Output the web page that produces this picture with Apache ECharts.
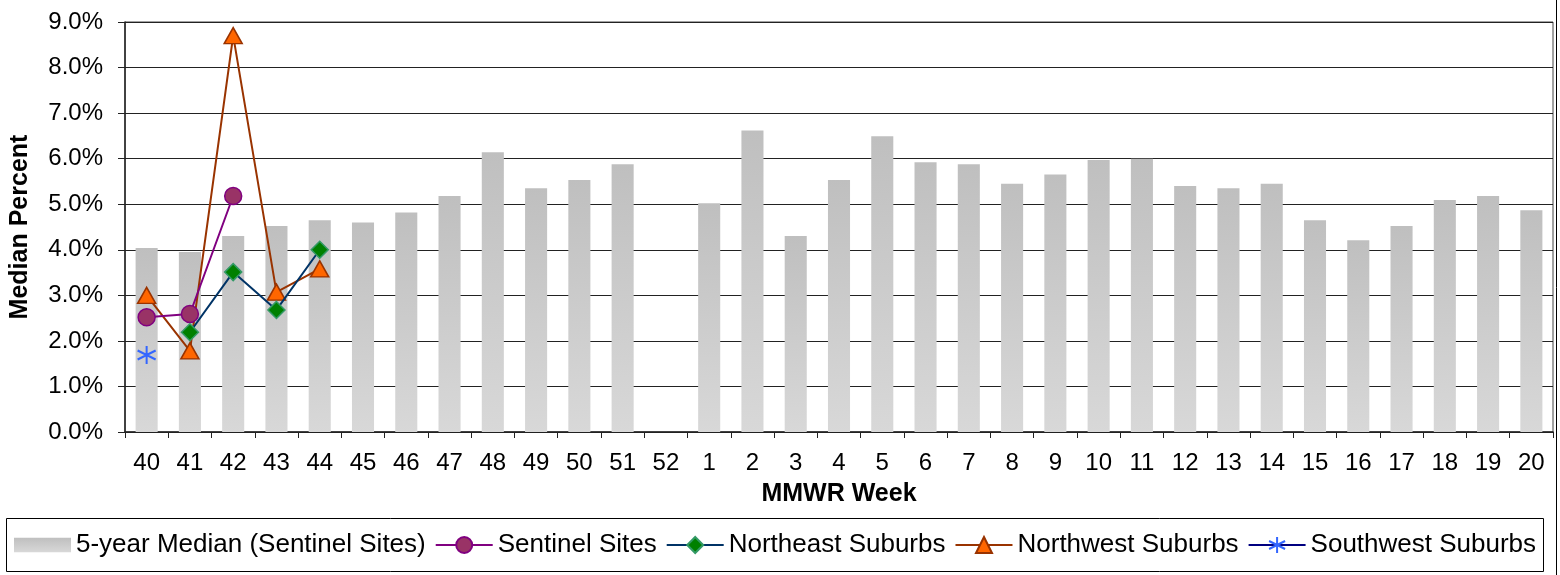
<!DOCTYPE html>
<html>
<head>
<meta charset="utf-8">
<script src="https://cdn.jsdelivr.net/npm/echarts@6/dist/echarts.min.js"></script>
<style>
html,body{margin:0;padding:0;background:#fff;}
#c{width:1560px;height:575px;}
</style>
</head>
<body>
<div id="c"></div>
<script>
const weeks = ['40','41','42','43','44','45','46','47','48','49','50','51','52','1','2','3','4','5','6','7','8','9','10','11','12','13','14','15','16','17','18','19','20'];
const median5yr = [4.04,3.95,4.30,4.52,4.65,4.60,4.82,5.18,6.14,5.35,5.53,5.88,null,5.02,6.62,4.30,5.53,6.49,5.92,5.88,5.45,5.65,5.97,6.00,5.40,5.35,5.45,4.65,4.21,4.52,5.09,5.18,4.87];
const sentinel = [2.52,2.59,5.18];
const northeast = [null,2.19,3.51,2.68,4.00];
const northwest = [3.00,1.78,8.70,3.07,3.58];
const southwest = [1.69];
const yTicks = [0,1,2,3,4,5,6,7,8,9];

const FONT = "'Liberation Sans', Arial, sans-serif";
const chart = echarts.init(document.getElementById('c'), null, {renderer:'canvas'});
const asterisk = 'path://M10 0 L10 20 M1.34 5 L18.66 15 M1.34 15 L18.66 5';
const barGrad = new echarts.graphic.LinearGradient(0,0,0,1,[{offset:0,color:'#bfbfbf'},{offset:1,color:'#d8d8d8'}]);

chart.setOption({
  animation:false,
  backgroundColor:'#fff',
  textStyle:{fontFamily:FONT,color:'#000'},
  grid:{left:122,right:7,top:22,bottom:143,show:true,borderColor:'#444',borderWidth:1},
  graphic:[
    {type:'rect',shape:{x:6.5,y:518.5,width:1537,height:53},style:{fill:'none',stroke:'#000',lineWidth:1},z:-1},
    {type:'line',shape:{x1:1556.5,y1:0,x2:1556.5,y2:575},style:{stroke:'#000',lineWidth:1}}
  ],
  legend:{
    left:14,top:532,padding:0,itemWidth:57,itemHeight:20,itemGap:9,
    textStyle:{fontFamily:FONT,fontSize:26,color:'#000'},
    data:[
      {name:'5-year Median (Sentinel Sites)',icon:'path://M0 0 L55 0 L55 14 L0 14 Z'},
      'Sentinel Sites','Northeast Suburbs','Northwest Suburbs','Southwest Suburbs'
    ]
  },
  xAxis:{
    type:'category',data:weeks,
    name:'MMWR Week',nameLocation:'middle',nameGap:50,
    nameTextStyle:{fontFamily:FONT,fontSize:25,fontWeight:'bold',color:'#000'},
    axisLine:{lineStyle:{color:'#222',width:1.5}},
    axisTick:{show:true,length:6,lineStyle:{color:'#222'}},
    axisLabel:{fontFamily:FONT,fontSize:24,color:'#000',margin:19,interval:0}
  },
  yAxis:{
    type:'value',min:yTicks[0],max:yTicks[yTicks.length-1],interval:1,
    name:'Median Percent',nameLocation:'middle',nameGap:92,
    nameTextStyle:{fontFamily:FONT,fontSize:25,fontWeight:'bold',color:'#000'},
    axisLine:{show:true,lineStyle:{color:'#222',width:1.5}},
    axisTick:{show:true,length:7,lineStyle:{color:'#222'}},
    axisLabel:{fontFamily:FONT,fontSize:24,color:'#000',margin:22,formatter:v=>v.toFixed(1)+'%'},
    splitLine:{lineStyle:{color:'#222',width:1}}
  },
  series:[
    {name:'5-year Median (Sentinel Sites)',type:'bar',data:median5yr,barCategoryGap:'49%',
     itemStyle:{color:barGrad},z:1},
    {name:'Sentinel Sites',type:'line',data:sentinel,symbol:'circle',symbolSize:17,
     lineStyle:{color:'#800080',width:2},itemStyle:{color:'#993366',borderColor:'#800080',borderWidth:1.5},z:3},
    {name:'Northeast Suburbs',type:'line',data:northeast,symbol:'diamond',symbolSize:17,
     lineStyle:{color:'#003366',width:2},itemStyle:{color:'#008000',borderColor:'#339966',borderWidth:1.5},z:4},
    {name:'Northwest Suburbs',type:'line',data:northwest,symbol:'triangle',symbolSize:[18,16],
     lineStyle:{color:'#993300',width:2},itemStyle:{color:'#FF6600',borderColor:'#993300',borderWidth:1.5},z:2},
    {name:'Southwest Suburbs',type:'line',data:southwest,symbol:asterisk,symbolSize:18,
     lineStyle:{color:'#000080',width:2},itemStyle:{color:'#3366FF',borderColor:'#3366FF',borderWidth:2},z:5}
  ]
});
</script>
</body>
</html>
